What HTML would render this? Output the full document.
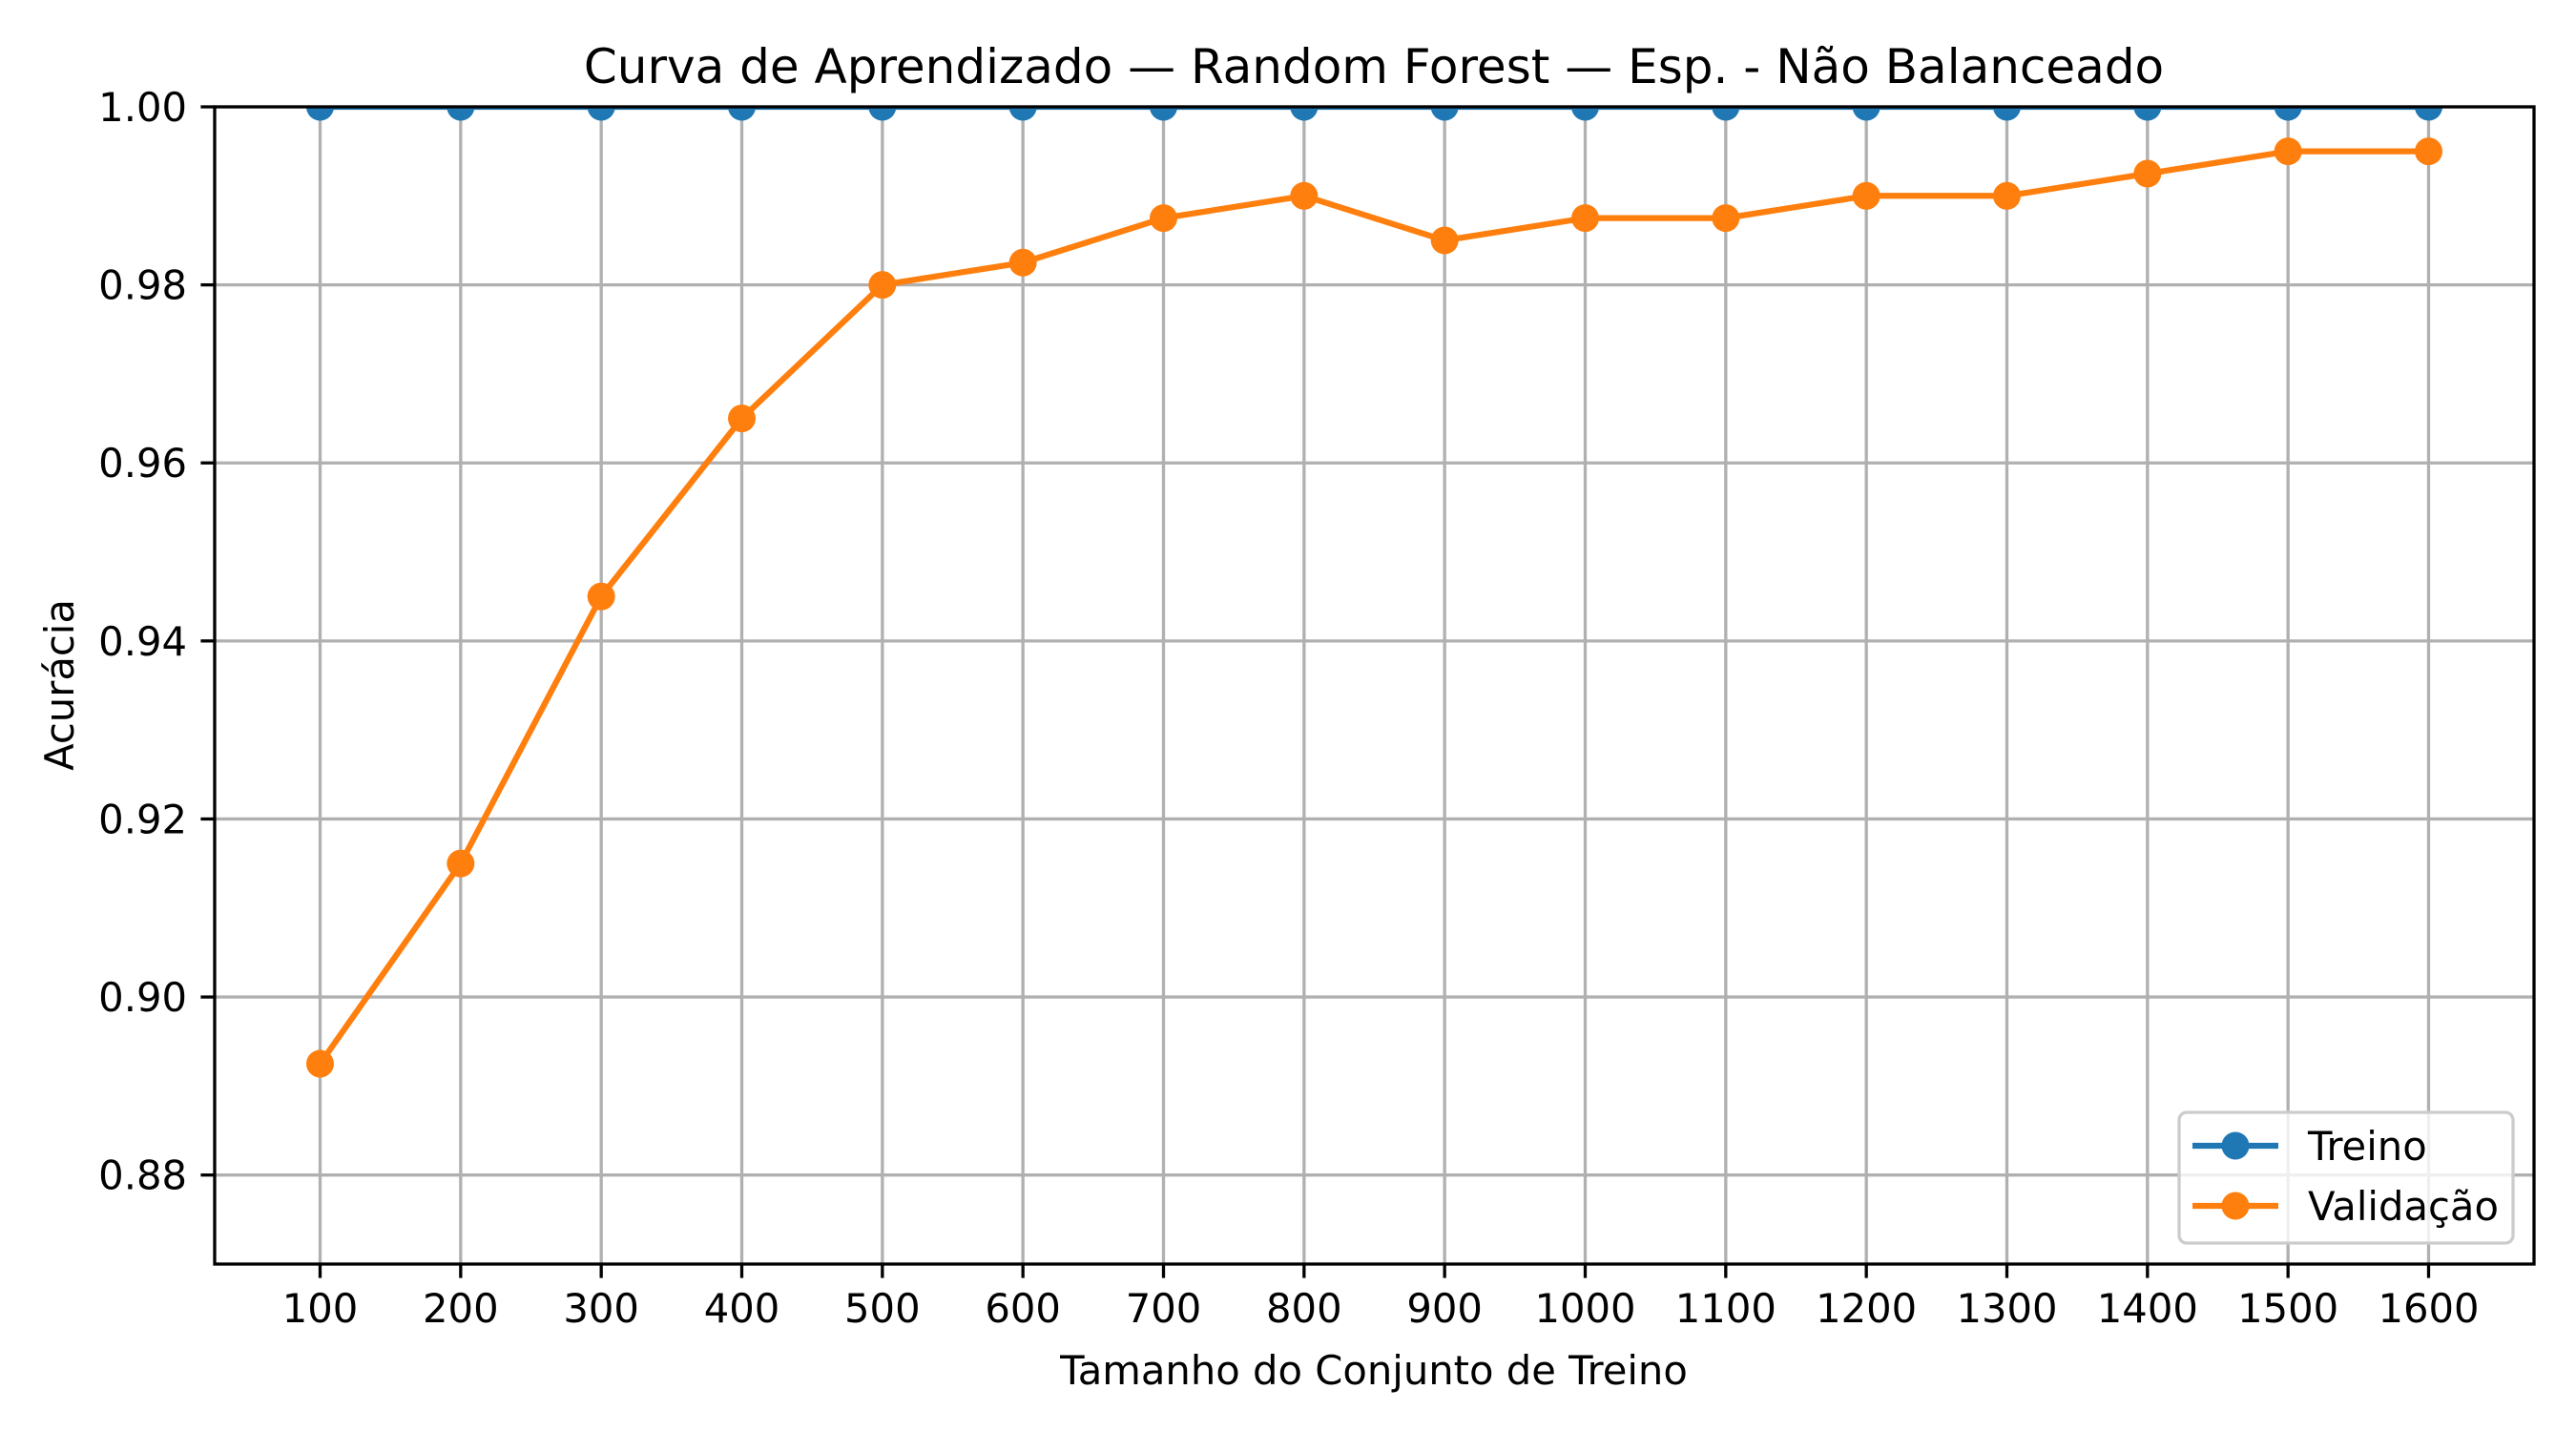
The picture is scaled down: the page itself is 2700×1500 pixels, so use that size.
<!DOCTYPE html>
<html><head><meta charset="utf-8"><style>
html,body{margin:0;padding:0;background:#fff;}
svg{display:block;font-family:"DejaVu Sans","Liberation Sans",sans-serif;}
</style></head><body>
<svg id="chart" width="2700" height="1500" viewBox="0 0 2700 1500">
<rect width="2700" height="1500" fill="#fff"/>
<defs><clipPath id="ax"><rect x="225" y="112" width="2431" height="1213"/></clipPath></defs>
<g id="grid"></g>
<g id="series" clip-path="url(#ax)"></g>
<rect x="225" y="112" width="2431" height="1213" fill="none" stroke="#000" stroke-width="3.3"/>
<g id="ticks"></g>
<text x="1440" y="87" font-size="50" text-anchor="middle">Curva de Aprendizado — Random Forest — Esp. - Não Balanceado</text>
<text x="1440" y="1451" font-size="41.7" text-anchor="middle">Tamanho do Conjunto de Treino</text>
<text x="0" y="0" font-size="41.7" text-anchor="middle" transform="translate(77,718) rotate(-90)">Acurácia</text>
<g>
<rect x="2284" y="1166" width="350" height="137" rx="8" fill="#fff" fill-opacity="0.8" stroke="#cccccc" stroke-width="3.3"/>
<g>
<line x1="2298" y1="1201" x2="2388" y2="1201" stroke="#1f77b4" stroke-width="6.25"/>
<circle cx="2343" cy="1201" r="14.5" fill="#1f77b4"/>
<text x="2419" y="1216" font-size="41.7">Treino</text></g>
<g>
<line x1="2298" y1="1264" x2="2388" y2="1264" stroke="#ff7f0e" stroke-width="6.25"/>
<circle cx="2343" cy="1264" r="14.5" fill="#ff7f0e"/>
<text x="2419" y="1279" font-size="41.7">Validação</text></g>
</g>
</svg>
<script>
const trainSizes = [100,200,300,400,500,600,700,800,900,1000,1100,1200,1300,1400,1500,1600];
const trainScores = [1,1,1,1,1,1,1,1,1,1,1,1,1,1,1,1];
const valScores = [0.8925,0.915,0.945,0.965,0.98,0.9825,0.9875,0.99,0.985,0.9875,0.9875,0.99,0.99,0.9925,0.995,0.995];
const yTicks = [0.88,0.90,0.92,0.94,0.96,0.98,1.00];
const yTickLabels = ["0.88","0.90","0.92","0.94","0.96","0.98","1.00"];

const L=225,R=2656,T=112,B=1325;
const xMin=25,xMax=1675,yMin=0.87,yMax=1.0;
const sx=v=>L+(v-xMin)/(xMax-xMin)*(R-L);
const sy=v=>B-(v-yMin)/(yMax-yMin)*(B-T);
const NS="http://www.w3.org/2000/svg";
function mk(tag,attrs,parent){const e=document.createElementNS(NS,tag);for(const k in attrs)e.setAttribute(k,attrs[k]);parent.appendChild(e);return e;}
const grid=document.getElementById('grid'),ticks=document.getElementById('ticks'),ser=document.getElementById('series');
trainSizes.forEach(v=>{
  const x=sx(v);
  const g=mk('line',{x1:x,y1:T,x2:x,y2:B,stroke:'#b0b0b0','stroke-width':3.3},grid);
  
  
  const t=mk('line',{x1:x,y1:B,x2:x,y2:B+14.6,stroke:'#000','stroke-width':3.3},ticks);
  
  
  const l=mk('text',{x:x,y:1386,'font-size':41.7,'text-anchor':'middle'},ticks);
  l.textContent=String(v);
  
  
});
yTicks.forEach((v,i)=>{
  const y=sy(v);
  const g=mk('line',{x1:L,y1:y,x2:R,y2:y,stroke:'#b0b0b0','stroke-width':3.3},grid);
  
  
  const t=mk('line',{x1:L-14.6,y1:y,x2:L,y2:y,stroke:'#000','stroke-width':3.3},ticks);
  
  
  const l=mk('text',{x:L-29,y:y+15,'font-size':41.7,'text-anchor':'end'},ticks);
  l.textContent=yTickLabels[i];
  
  
});
function drawSeries(vals,color,name){
  const pts=trainSizes.map((v,i)=>sx(v)+','+sy(vals[i])).join(' ');
  const pl=mk('polyline',{points:pts,fill:'none',stroke:color,'stroke-width':6.25,'stroke-linejoin':'round','stroke-linecap':'square'},ser);
  
  
  trainSizes.forEach((v,i)=>{
    const c=mk('circle',{cx:sx(v),cy:sy(vals[i]),r:14.5,fill:color},ser);
    
    
  });
}
drawSeries(trainScores,'#1f77b4','treino');
drawSeries(valScores,'#ff7f0e','validacao');
</script>
</body></html>
